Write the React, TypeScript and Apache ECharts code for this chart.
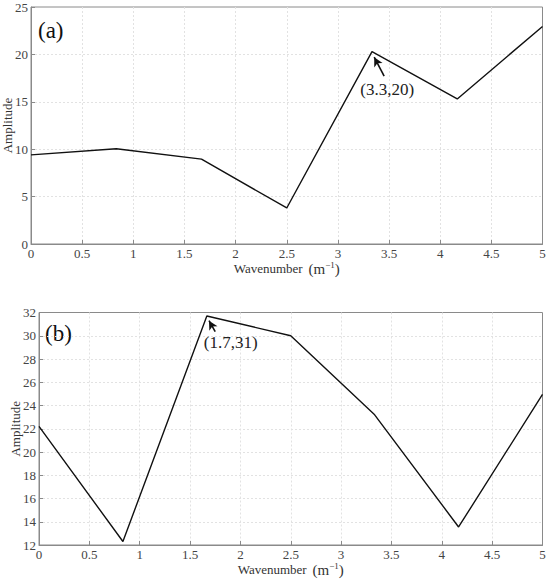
import React, { useEffect, useRef } from "react";
import * as echarts from "echarts";

const wavenumber = [0, 0.8333, 1.6667, 2.5, 3.3333, 4.1667, 5];
const amplitudeA = [9.4, 10.05, 8.95, 3.8, 20.3, 15.3, 22.95];
const amplitudeB = [22.2, 12.3, 31.7, 30.0, 23.2, 13.55, 24.95];

const annotA = { tip: [3.355, 19.7], tail: [3.452, 17.7], text: [3.482, 16.3], label: "(3.3,20)" };
const annotB = { tip: [1.688, 31.3], tail: [1.75, 30.35], text: [1.903, 29.4], label: "(1.7,31)" };

const FONT = "Liberation Serif";

function pairs(xs: number[], ys: number[]) {
  return xs.map((x, i) => [x, ys[i]]);
}

function xAxisCfg(gridIndex: number) {
  return {
    type: "value",
    gridIndex,
    min: 0,
    max: 5,
    interval: 0.5,
    name: "{a|Wavenumber}  {b|(m}{s|−1}{b|)}",
    nameLocation: "middle",
    nameGap: 16,
    nameMoveOverlap: false,
    nameTextStyle: {
      fontFamily: FONT,
      rich: {
        a: { fontFamily: FONT, fontSize: 13, color: "#333" },
        b: { fontFamily: FONT, fontSize: 15, color: "#333" },
        s: { fontFamily: FONT, fontSize: 9, color: "#333", padding: [0, 0, 8, 0] },
      },
    },
    axisLine: { show: true, lineStyle: { color: "#8a8a8a", width: 1 } },
    axisTick: { show: true, inside: true, length: 4, lineStyle: { color: "#8a8a8a" } },
    axisLabel: { fontFamily: FONT, fontSize: 13, color: "#444", margin: 3 },
    splitLine: { show: true, showMinLine: false, showMaxLine: false, lineStyle: { color: "#e2e2e2", type: [2, 2], width: 1 } },
  };
}

function yAxisCfg(gridIndex: number, min: number, max: number, interval: number) {
  return {
    type: "value",
    gridIndex,
    min,
    max,
    interval,
    name: "Amplitude",
    nameLocation: "middle",
    nameGap: 17.5,
    nameMoveOverlap: false,
    nameTextStyle: { fontFamily: FONT, fontSize: 13, color: "#333" },
    axisLine: { show: true, lineStyle: { color: "#8a8a8a", width: 1 } },
    axisTick: { show: true, inside: true, length: 4, lineStyle: { color: "#8a8a8a" } },
    axisLabel: { fontFamily: FONT, fontSize: 13, color: "#444", margin: 3 },
    splitLine: { show: true, showMinLine: false, showMaxLine: false, lineStyle: { color: "#e2e2e2", type: [2, 2], width: 1 } },
  };
}

function seriesCfg(idx: number, ys: number[], annot: any) {
  return {
    type: "line",
    xAxisIndex: idx,
    yAxisIndex: idx,
    data: pairs(wavenumber, ys),
    showSymbol: false,
    symbol: "none",
    lineStyle: { color: "#111", width: 1.4 },
    silent: true,
    markLine: {
      silent: true,
      symbol: ["none", "arrow"],
      symbolSize: [7, 9],
      label: { show: false },
      lineStyle: { color: "#111", width: 1.6, type: "solid" },
      data: [[{ coord: annot.tail }, { coord: annot.tip }]],
    },
    markPoint: {
      silent: true,
      symbol: "circle",
      symbolSize: 0,
      label: {
        show: true,
        position: "inside",
        formatter: annot.label,
        fontFamily: FONT,
        fontSize: 17,
        color: "#222",
      },
      data: [{ coord: annot.text }],
    },
  };
}

export default function App() {
  const ref = useRef<HTMLDivElement>(null);
  useEffect(() => {
    if (!ref.current) return;
    const chart = echarts.init(ref.current, undefined, { renderer: "svg" });
    chart.setOption({
      animation: false,
      backgroundColor: "#fff",
      textStyle: { fontFamily: FONT },
      grid: [
        { left: 31, right: 7.5, top: 7, height: 237, containLabel: false, outerBoundsMode: "none", show: true, borderColor: "#8a8a8a", borderWidth: 1, backgroundColor: "transparent" },
        { left: 39, right: 7.5, top: 312.5, height: 232.5, containLabel: false, outerBoundsMode: "none", show: true, borderColor: "#8a8a8a", borderWidth: 1, backgroundColor: "transparent" },
      ],
      xAxis: [xAxisCfg(0), xAxisCfg(1)],
      yAxis: [yAxisCfg(0, 0, 25, 5), yAxisCfg(1, 12, 32, 2)],
      series: [seriesCfg(0, amplitudeA, annotA), seriesCfg(1, amplitudeB, annotB)],
      graphic: [
        { type: "text", left: 38, top: 19, style: { text: "(a)", fontFamily: FONT, fontSize: 23, fill: "#111" } },
        { type: "text", left: 45, top: 322, style: { text: "(b)", fontFamily: FONT, fontSize: 23, fill: "#111" } },
      ],
    });
    return () => chart.dispose();
  }, []);
  return (
    <div
      ref={ref}
      style={{ position: "absolute", left: 0, top: 0, width: 550, height: 580, background: "#fff" }}
    />
  );
}
